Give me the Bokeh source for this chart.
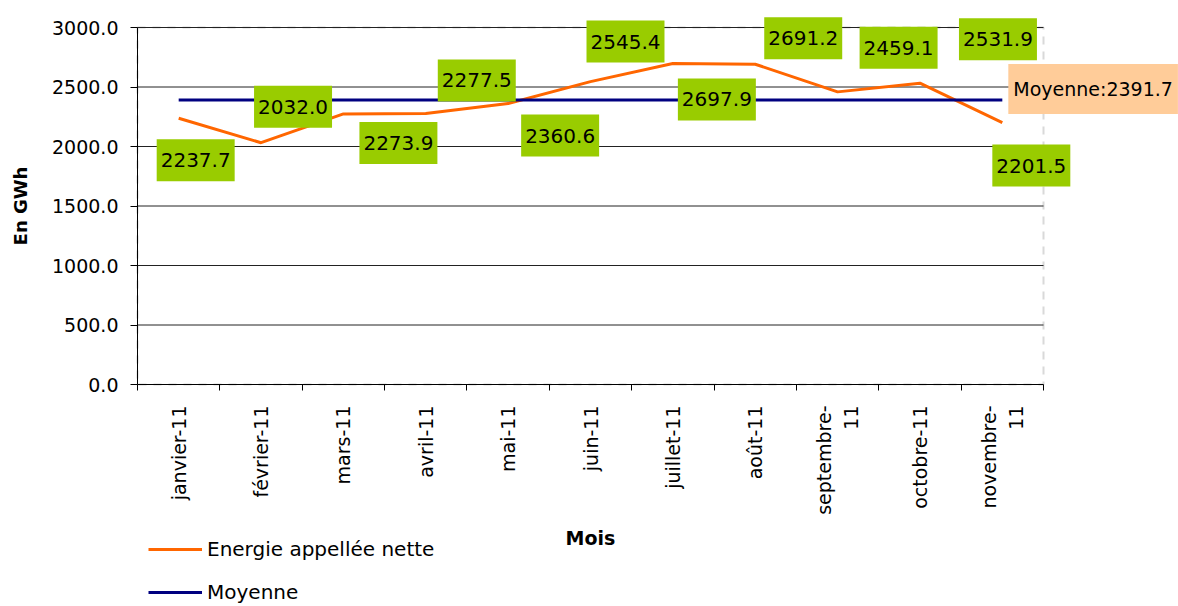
import math
from bokeh.plotting import figure
from bokeh.models import (Range1d, FixedTicker, NumeralTickFormatter, Label, Legend, LegendItem,
                          LinearAxis, BoxAnnotation)
from bokeh.embed import file_html
from bokeh.resources import INLINE

# ---- data ----
months = ["janvier-11", "février-11", "mars-11", "avril-11", "mai-11", "juin-11",
          "juillet-11", "août-11", "septembre-\n11", "octobre-11", "novembre-\n11"]
energie = [2237.7, 2032.0, 2273.9, 2277.5, 2360.6, 2545.4, 2697.9, 2691.2, 2459.1, 2531.9, 2201.5]
moyenne = [2391.7, 2391.7, 2391.7, 2391.7, 2391.7, 2391.7, 2391.7, 2391.7, 2391.7, 2391.7, 2391.7]
moyenne_value = 2391.7
y_ticks = [0, 500, 1000, 1500, 2000, 2500, 3000]
y_min, y_max = 0, 3000

# label placement (pixel offsets from each point)
label_dx = [17, 32, 55, 51, 52, 35, 44, 48, 61, 78, 29]
label_dy = [-42, 36, -29, 33, -32, 40, -36, 26, 44, 44, -43]

FONT = "DejaVu Sans"
ORANGE = "#FF6600"
NAVY = "#000080"
GREEN = "#99CC00"

W, H = 1178, 606
# plot area in canvas pixels
PL, PR, PT, PB = 137, 1043, 27, 384

n = len(months)
xs = [i + 0.5 for i in range(n)]

# ranges so that the plot area (0..n, 0..3000) maps onto the pixel box above,
# while the frame covers the whole canvas (so labels / legend are not clipped)
kx = (PR - PL) / n
ky = (PB - PT) / (y_max - y_min)
x_range = Range1d(-PL / kx, n + (W - PR) / kx)
y_range = Range1d(y_min - (H - PB) / ky, y_max + PT / ky)

p = figure(width=W, height=H, output_backend="svg", toolbar_location=None,
           x_range=x_range, y_range=y_range,
           x_axis_location=None, y_axis_location=None, min_border=0)
p.background_fill_color = "white"
p.border_fill_color = "white"
p.outline_line_color = None
p.xgrid.visible = False
p.ygrid.visible = False

# plot-area border (dashed)
p.add_layout(BoxAnnotation(left=0, right=n, bottom=y_min, top=y_max, level="underlay",
                           fill_alpha=0, line_color="#808080", line_dash="8 7", line_width=2))

# horizontal gridlines
p.segment(x0=0, x1=n, y0=y_ticks[1:], y1=y_ticks[1:], line_color="#222222", line_width=1)

# x axis
xa = LinearAxis(fixed_location=y_min, bounds=(0, n))
xa.ticker = FixedTicker(ticks=xs, minor_ticks=list(range(n + 1)))
xa.major_label_overrides = {x: m for x, m in zip(xs, months)}
xa.major_label_orientation = math.pi / 2
xa.major_label_text_align = "center"
xa.major_tick_line_color = None
xa.major_tick_out = 0
xa.major_tick_in = 0
xa.minor_tick_line_color = "black"
xa.minor_tick_out = 6
xa.minor_tick_in = 0
xa.axis_line_color = "black"
xa.major_label_standoff = 15
xa.major_label_text_font = FONT
xa.major_label_text_font_size = "19px"
xa.major_label_text_color = "black"
xa.axis_label = "Mois"
xa.axis_label_text_font = FONT
xa.axis_label_text_font_size = "19px"
xa.axis_label_text_font_style = "bold"
xa.axis_label_text_color = "black"
xa.axis_label_standoff = 9
p.add_layout(xa, "below")

# y axis
ya = LinearAxis(fixed_location=0, bounds=(y_min, y_max))
ya.ticker = FixedTicker(ticks=y_ticks)
ya.formatter = NumeralTickFormatter(format="0.0")
ya.axis_line_color = "black"
ya.major_tick_line_color = "black"
ya.major_tick_out = 7
ya.major_tick_in = 0
ya.minor_tick_line_color = None
ya.major_label_standoff = 12
ya.major_label_text_font = FONT
ya.major_label_text_font_size = "19px"
ya.major_label_text_color = "black"
ya.axis_label = "En GWh"
ya.axis_label_text_font = FONT
ya.axis_label_text_font_size = "18px"
ya.axis_label_text_font_style = "bold"
ya.axis_label_text_color = "black"
ya.axis_label_standoff = 18
p.add_layout(ya, "left")

# series
r_en = p.line(xs, energie, line_color=ORANGE, line_width=3)
r_moy = p.line(xs, moyenne, line_color=NAVY, line_width=3)

# data labels
for x, v, dx, dy in zip(xs, energie, label_dx, label_dy):
    p.add_layout(Label(x=x, y=v, text=f"{v:.1f}", x_offset=dx, y_offset=dy,
                       text_align="center", text_baseline="middle",
                       text_font=FONT, text_font_size="20px", text_color="black",
                       background_fill_color=GREEN, background_fill_alpha=1.0,
                       padding=(4, 14)))

p.add_layout(Label(x=xs[-1], y=moyenne[-1], text=f"Moyenne:{moyenne_value:.1f}",
                   x_offset=6, y_offset=11,
                   text_align="left", text_baseline="middle",
                   text_font=FONT, text_font_size="19px", text_color="black",
                   background_fill_color="#FFCC99", background_fill_alpha=1.0,
                   padding=(5, 14)))

legend = Legend(items=[LegendItem(label="Energie appellée nette", renderers=[r_en]),
                       LegendItem(label="Moyenne", renderers=[r_moy])],
                location=(148, 2), orientation="vertical",
                glyph_width=54, glyph_height=20, label_height=20, label_standoff=5,
                spacing=19, padding=0, margin=0,
                border_line_color=None, background_fill_alpha=0,
                label_text_font=FONT, label_text_font_size="20px", label_text_color="black")
p.add_layout(legend)

open("out.html", "w").write(file_html(p, INLINE))
